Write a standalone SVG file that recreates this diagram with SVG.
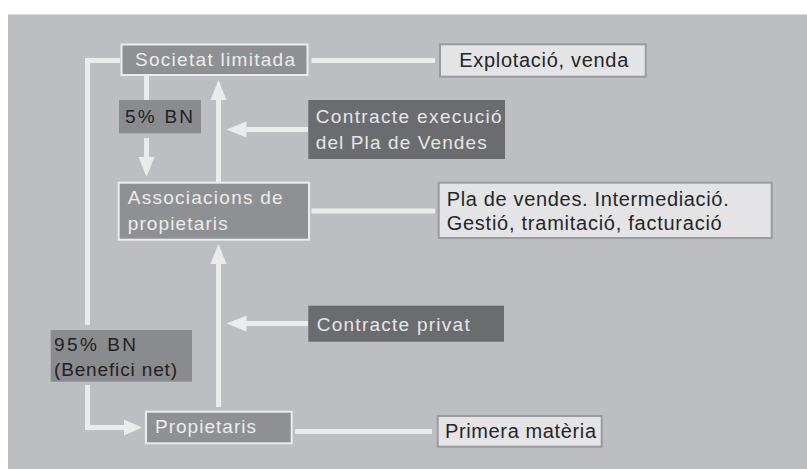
<svg xmlns="http://www.w3.org/2000/svg" width="807" height="469" viewBox="0 0 807 469">
<style>
text{font-family:"Liberation Sans",Arial,Helvetica,sans-serif}
.node rect{fill:#8f9094;stroke:#ececec;stroke-width:2}
.node text{font-size:19px;fill:#ececec}
.lab rect{fill:#8a8b8e}
.lab text{font-size:19px;fill:#222}
.con rect{fill:#6b6c6f}
.con text{font-size:19px;fill:#e6e6e6}
.info rect{fill:#e4e4e6;stroke:#9a9b9e;stroke-width:2}
.info text{font-size:20px;fill:#262626}
.line{fill:none;stroke:#ebebeb;stroke-width:5}
.head{fill:#ebebeb}
</style>
<rect x="8" y="14.5" width="799" height="455" fill="#bdbec2"/>
<g id="connectors">
<path class="line" d="M120,60.5 H87.5 V325"/>
<path class="line" d="M87.5,385 V427.5 H125"/>
<polygon class="head" points="124,419.5 142,427.5 124,435.5"/>
<path class="line" d="M146.5,76 V100"/>
<path class="line" d="M146.5,138 V158"/>
<polygon class="head" points="138.5,157 154.5,157 146.5,177"/>
<path class="line" d="M218.5,182 V99"/>
<polygon class="head" points="210.5,100 226.5,100 218.5,80"/>
<path class="line" d="M308,129.5 H245"/>
<polygon class="head" points="246.5,121.5 246.5,137.5 226.5,129.5"/>
<path class="line" d="M218.5,407 V263"/>
<polygon class="head" points="210.5,264 226.5,264 218.5,244"/>
<path class="line" d="M308,323.5 H245"/>
<polygon class="head" points="246.5,315.5 246.5,331.5 226.5,323.5"/>
<path class="line" d="M311.5,60.5 H435"/>
<path class="line" d="M311.5,211 H435"/>
<path class="line" d="M295,431.5 H432"/>
</g>
<g id="societat" class="node">
<rect x="121.5" y="44.5" width="186" height="30.5"/>
<text x="135" y="66" textLength="160" lengthAdjust="spacing">Societat limitada</text>
</g>
<g id="associacions" class="node">
<rect x="118.7" y="182.7" width="190.3" height="57"/>
<text x="127.7" y="203.5" textLength="155" lengthAdjust="spacing">Associacions de</text>
<text x="127.7" y="229.5" textLength="100" lengthAdjust="spacing">propietaris</text>
</g>
<g id="propietaris" class="node">
<rect x="146" y="411.7" width="145.7" height="31.6"/>
<text x="155" y="432.7" textLength="101" lengthAdjust="spacing">Propietaris</text>
</g>
<g id="bn5" class="lab">
<rect x="119" y="100" width="82" height="33.3"/>
<text x="125" y="123" textLength="68" lengthAdjust="spacing">5% BN</text>
</g>
<g id="bn95" class="lab">
<rect x="50.7" y="330" width="141.3" height="51.7"/>
<text x="54" y="350.5" textLength="82" lengthAdjust="spacing">95% BN</text>
<text x="54" y="376" textLength="123" lengthAdjust="spacing">(Benefici net)</text>
</g>
<g id="contracte-execucio" class="con">
<rect x="308.3" y="100" width="196.7" height="59"/>
<text x="315.7" y="123.3" textLength="186" lengthAdjust="spacing">Contracte execució</text>
<text x="315.7" y="149.3" textLength="171" lengthAdjust="spacing">del Pla de Vendes</text>
</g>
<g id="contracte-privat" class="con">
<rect x="308.3" y="305.7" width="195.7" height="36"/>
<text x="316.7" y="330.7" textLength="153" lengthAdjust="spacing">Contracte privat</text>
</g>
<g id="explotacio" class="info">
<rect x="440" y="44.3" width="205.7" height="32.4"/>
<text x="459.3" y="66.7" textLength="169" lengthAdjust="spacing">Explotació, venda</text>
</g>
<g id="pla-vendes" class="info">
<rect x="438.7" y="182.7" width="333" height="55.3"/>
<text x="446.7" y="206" textLength="282" lengthAdjust="spacing">Pla de vendes. Intermediació.</text>
<text x="446.7" y="230" textLength="275" lengthAdjust="spacing">Gestió, tramitació, facturació</text>
</g>
<g id="primera-materia" class="info">
<rect x="437.7" y="416" width="164" height="30.7"/>
<text x="445" y="438.3" textLength="151" lengthAdjust="spacing">Primera matèria</text>
</g>
</svg>
